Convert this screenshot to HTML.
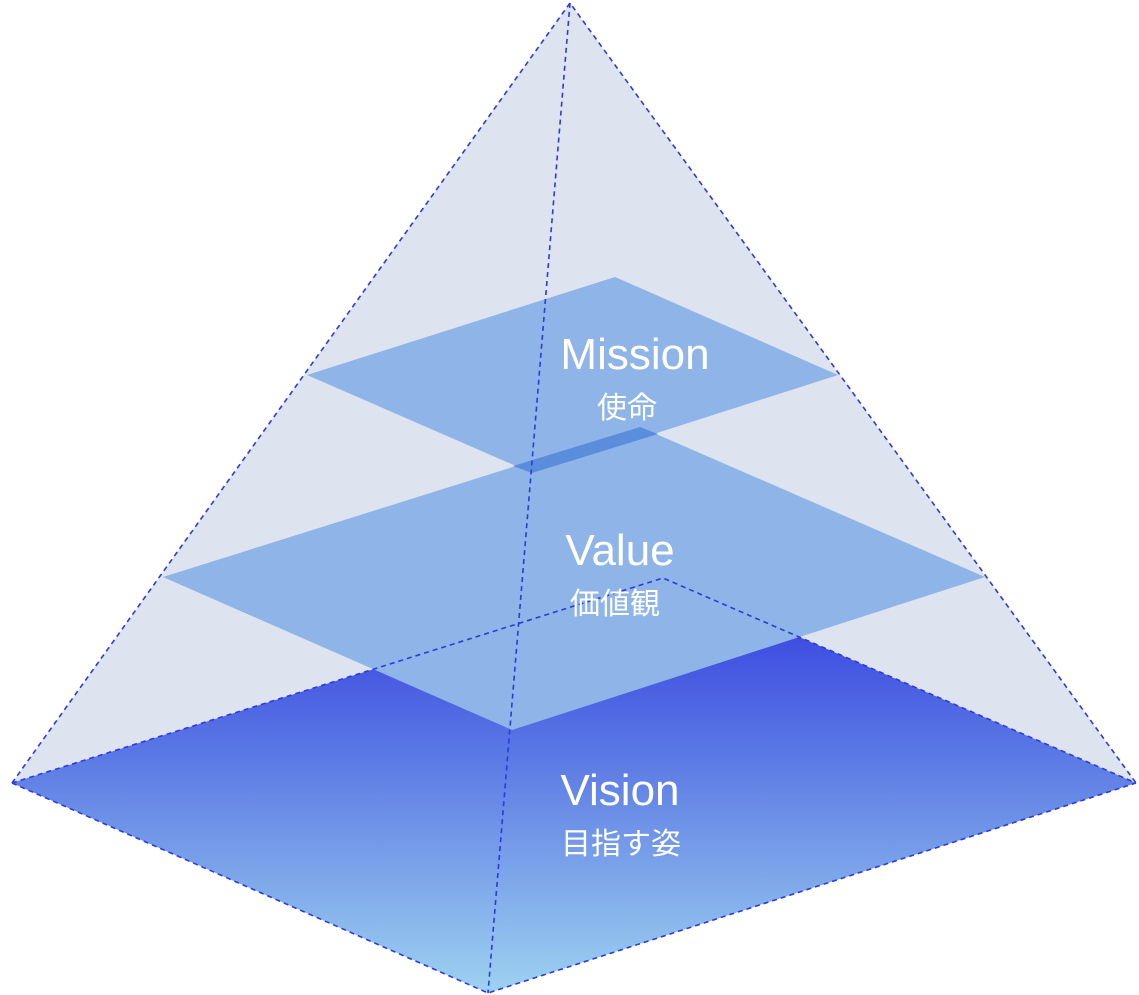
<!DOCTYPE html>
<html><head><meta charset="utf-8"><style>
html,body{margin:0;padding:0;background:#fff;}
svg{display:block;}
</style></head><body>
<svg width="1139" height="995" viewBox="0 0 1139 995" xmlns="http://www.w3.org/2000/svg">
<defs>
<linearGradient id="g" x1="0" y1="578" x2="0" y2="993" gradientUnits="userSpaceOnUse">
<stop offset="0" stop-color="#3038e0"/>
<stop offset="0.45" stop-color="#5d7ce4"/>
<stop offset="1" stop-color="#9ed2f0"/>
</linearGradient>
</defs>
<polygon points="570,3 12,783 488,993 1136,783" fill="#dde3ef"/>
<polygon points="12,783 663,578 1136,783 488,993" fill="url(#g)"/>
<polygon points="163,577 640,427 985,577 512,730" fill="#8fb4e7"/>
<polygon points="307,375 615,277 838,375 532,473" fill="#8fb4e7"/>
<polygon points="513,466 640,427 658,434 532,473" fill="#5b8ddd"/>
<g stroke="#2b3ae2" stroke-width="1.6" stroke-dasharray="5,4" fill="none">
<polyline points="12,783 570,3 1136,783"/>
<line x1="570" y1="3" x2="488" y2="993"/>
<polyline points="12,783 663,578 1136,783"/>
<polyline points="12,783 488,993 1136,783"/>
</g>
<g fill="#fff" text-anchor="middle" font-family="Liberation Sans, Noto Sans CJK JP, sans-serif">
<text x="635" y="369" font-size="44">Mission</text>
<text x="627" y="418" font-size="30">使命</text>
<text x="620" y="565" font-size="44">Value</text>
<text x="615" y="614" font-size="30">価値観</text>
<text x="620" y="805" font-size="44">Vision</text>
<text x="621" y="854" font-size="30">目指す姿</text>
</g>
</svg>
</body></html>
